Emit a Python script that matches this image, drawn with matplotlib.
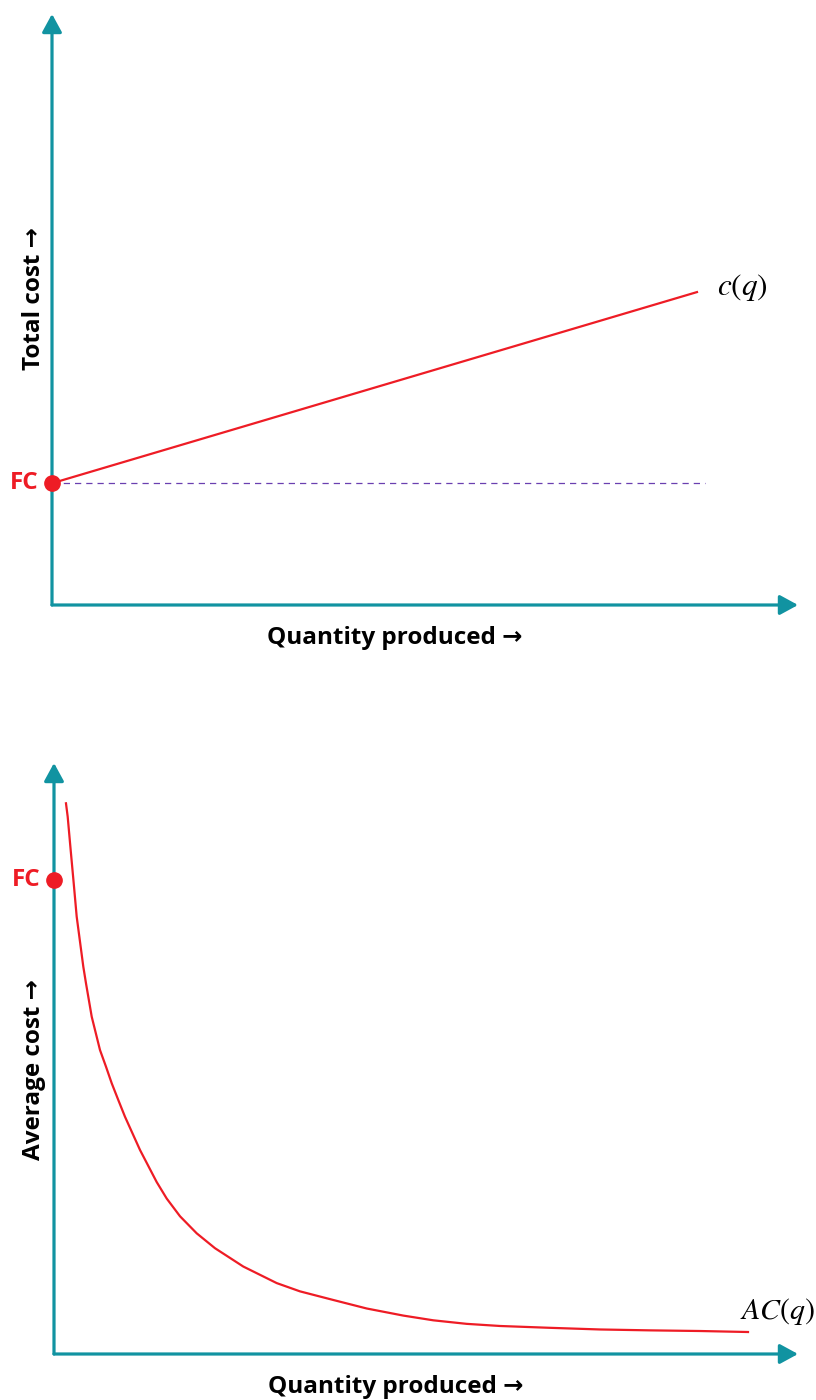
import numpy as np
import matplotlib
matplotlib.use("Agg")
import matplotlib.pyplot as plt

plt.rcParams['font.family'] = ['Open Sans', 'DejaVu Sans']
plt.rcParams['mathtext.fontset'] = 'stix'

# colores
teal = '#1193A1'
rojo = '#EE1C25'
morado = '#6A3FB0'

# --- datos (unidades del grafico: 0..100 en cada eje) ---
fc_total = 20.6
q_total = [0, 86.6]
c_total = [20.6, 53.0]
q_fc_linea = [0, 87.5]

fc_medio = 80.2
q_medio = [1.61, 1.84, 2.24, 2.65, 3.05, 3.94, 4.30, 5.07, 6.18, 6.99, 7.76,
           8.64, 9.54, 11.56, 13.80, 15.15, 16.94, 19.18, 21.64, 25.44, 29.93,
           33.06, 37.54, 42.03, 46.95, 50.98, 55.47, 59.95, 66.67, 73.39, 80.1,
           86.83, 93.28]
ac_medio = [93.18, 90.91, 85.28, 79.64, 74.0, 65.53, 62.72, 57.07, 51.44, 48.61,
            45.80, 42.98, 40.15, 34.52, 29.1, 26.3, 23.3, 20.42, 17.9, 14.8,
            12.0, 10.6, 9.14, 7.7, 6.5, 5.7, 5.1, 4.74, 4.43, 4.15, 4.0,
            3.89, 3.72]

fig = plt.figure(figsize=(8.16, 14), dpi=100)

ax1 = fig.add_axes([52/816, (1400-605)/1400, 746/816, 591/1400])
ax2 = fig.add_axes([54/816, (1400-1354)/1400, 744/816, 591/1400])


def ejes(ax):
    ax.set_xlim(0, 100)
    ax.set_ylim(0, 100)
    ax.axis('off')
    estilo = dict(arrowstyle='-|>,head_length=0.55,head_width=0.3', color=teal,
                  lw=2.3, mutation_scale=20, shrinkA=0, shrinkB=0)
    ax.annotate('', xy=(1, 0), xytext=(0, 0), xycoords='axes fraction',
                arrowprops=estilo, annotation_clip=False)
    ax.annotate('', xy=(0, 1), xytext=(0, 0), xycoords='axes fraction',
                arrowprops=estilo, annotation_clip=False)
    ax.text(0.46, -0.056, 'Quantity produced \u2192', transform=ax.transAxes,
            ha='center', va='center', fontsize=17.5, fontweight='bold')


# panel de arriba
ejes(ax1)
ax1.plot(q_fc_linea, [fc_total, fc_total], color=morado, lw=0.9, ls=(0, (5, 4)))
ax1.plot(q_total, c_total, color=rojo, lw=1.6, solid_capstyle='butt')
ax1.plot(0, fc_total, 'o', color=rojo, ms=11, clip_on=False, zorder=5)
ax1.text(-1.8, fc_total, 'FC', color=rojo, fontsize=17.5, fontweight='bold',
         ha='right', va='center')
ax1.text(89.2, 53.8, '$c(q)$', fontsize=22.5, ha='left', va='center')
fig.text(34/816, 1 - 299/1400, 'Total cost \u2192', rotation=90, ha='center',
         va='center', fontsize=17.5, fontweight='bold')

# panel de abajo
ejes(ax2)
ax2.plot(q_medio, ac_medio, color=rojo, lw=1.6, solid_joinstyle='round')
ax2.plot(0, fc_medio, 'o', color=rojo, ms=11, clip_on=False, zorder=5)
ax2.text(-1.8, fc_medio, 'FC', color=rojo, fontsize=17.5, fontweight='bold',
         ha='right', va='center')
ax2.text(92.2, 7.2, '$AC(q)$', fontsize=21.5, ha='left', va='center')
fig.text(34/816, 1 - 1069/1400, 'Average cost \u2192', rotation=90, ha='center',
         va='center', fontsize=17.5, fontweight='bold')

fig.savefig('out.png', dpi=100)
